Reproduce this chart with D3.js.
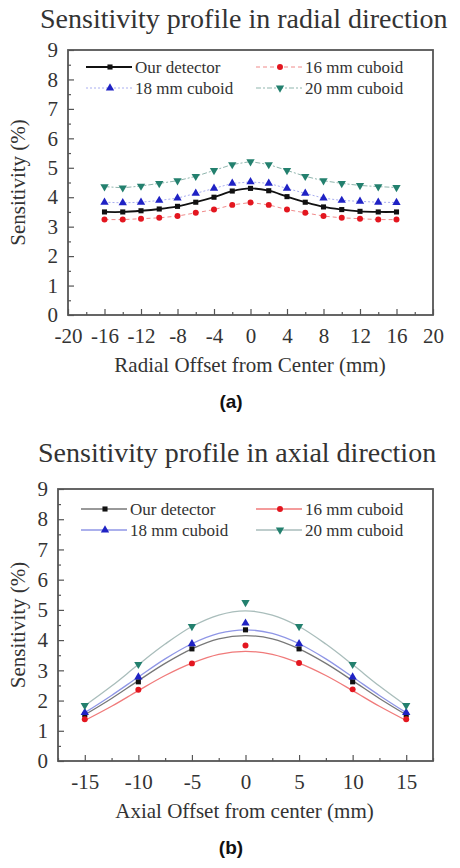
<!DOCTYPE html>
<html>
<head>
<meta charset="utf-8">
<script src="https://cdn.jsdelivr.net/npm/d3@7"></script>
<style>
  body { margin: 0; background: #fff; }
  svg { display: block; }
  text { font-family: "Liberation Serif", "Times New Roman", Times, serif; fill: #333; }
</style>
</head>
<body>
<div id="mainDiv"></div>
<script>
'use strict';

var seriesNames = ["Our detector", "16 mm cuboid", "18 mm cuboid", "20 mm cuboid"];
var yTicks = [0, 1, 2, 3, 4, 5, 6, 7, 8, 9];

// (a) radial profile
var radialX = [-16, -14, -12, -10, -8, -6, -4, -2, 0, 2, 4, 6, 8, 10, 12, 14, 16];
var radialOurs = [3.50, 3.50, 3.54, 3.60, 3.69, 3.83, 4.00, 4.21, 4.30, 4.22, 4.02, 3.83, 3.67, 3.58, 3.52, 3.50, 3.50];
var radial16 = [3.24, 3.24, 3.27, 3.30, 3.36, 3.47, 3.58, 3.74, 3.82, 3.74, 3.58, 3.47, 3.36, 3.30, 3.27, 3.24, 3.24];
var radial18 = [3.83, 3.81, 3.83, 3.89, 3.97, 4.13, 4.30, 4.47, 4.52, 4.47, 4.30, 4.13, 3.97, 3.89, 3.86, 3.83, 3.82];
var radial20 = [4.36, 4.32, 4.38, 4.47, 4.56, 4.71, 4.91, 5.11, 5.21, 5.11, 4.91, 4.71, 4.56, 4.47, 4.40, 4.36, 4.33];
var radialTicks = [-20, -16, -12, -8, -4, 0, 4, 8, 12, 16, 20];

// (b) axial profile, measured points
var axialX = [-15, -10, -5, 0, 5, 10, 15];
var axialOurs = [1.53, 2.62, 3.71, 4.34, 3.71, 2.62, 1.53];
var axial16 = [1.38, 2.36, 3.23, 3.82, 3.24, 2.37, 1.38];
var axial18 = [1.60, 2.78, 3.88, 4.56, 3.88, 2.78, 1.60];
var axial20 = [1.84, 3.20, 4.45, 5.25, 4.45, 3.20, 1.84];
// fitted curves, read at 2.5 mm steps
var fitX = [-15, -12.5, -10, -7.5, -5, -2.5, 0, 2.5, 5, 7.5, 10, 12.5, 15];
var fitOurs = [1.53, 2.07, 2.66, 3.23, 3.71, 4.04, 4.15, 4.04, 3.71, 3.23, 2.66, 2.07, 1.53];
var fit16 = [1.34, 1.81, 2.33, 2.83, 3.24, 3.53, 3.63, 3.53, 3.24, 2.83, 2.33, 1.81, 1.34];
var fit18 = [1.60, 2.17, 2.78, 3.38, 3.88, 4.22, 4.34, 4.22, 3.88, 3.38, 2.78, 2.17, 1.60];
var fit20 = [1.83, 2.48, 3.19, 3.87, 4.45, 4.83, 4.97, 4.83, 4.45, 3.87, 3.19, 2.48, 1.83];
var axialTicks = [-15, -10, -5, 0, 5, 10, 15];

var myApp = {};

myApp.colors = ["#111111", "#e3161f", "#1f22c4", "#23806e"];
myApp.lineColors = ["#777777", "#f07a7a", "#8f96e6", "#a9bdbb"];
myApp.shapes = [d3.symbolSquare, d3.symbolCircle, d3.symbolTriangle, d3.symbolTriangle];
myApp.sizes = [26, 28, 30, 30];

myApp.zip = function (xs, ys)
{
    return xs.map(function (x, i) { return [x, ys[i]]; });
}

myApp.marker = function (g, i, x, y)
{
    g.append("path")
        .attr("d", d3.symbol().type(myApp.shapes[i]).size(myApp.sizes[i])())
        .attr("transform", "translate(" + x + "," + y + ")" + (i === 3 ? " rotate(180)" : ""))
        .attr("fill", myApp.colors[i]);
}

myApp.drawPanel = function (svg, cfg)
{
    var x = d3.scaleLinear().domain(cfg.xDomain).range([cfg.left, cfg.right]);
    var y = d3.scaleLinear().domain([0, 9]).range([cfg.bottom, cfg.top]);
    var g = svg.append("g");

    g.append("text")
        .attr("x", cfg.titleX).attr("y", cfg.titleY)
        .attr("font-size", "28px")
        .text(cfg.title);

    // inward ticks: major and minor
    var plain = function (d) { return d; };
    var xAxis = g.append("g").attr("transform", "translate(0," + cfg.bottom + ")")
        .call(d3.axisBottom(x).tickValues(cfg.xMinor).tickSize(-3).tickFormat(""));
    var xMaj = g.append("g").attr("transform", "translate(0," + cfg.bottom + ")")
        .call(d3.axisBottom(x).tickValues(cfg.xTicks).tickSize(-6).tickPadding(13).tickFormat(plain));
    var yMin = g.append("g").attr("transform", "translate(" + cfg.left + ",0)")
        .call(d3.axisLeft(y).tickValues(d3.range(0.5, 9, 1)).tickSize(-3).tickFormat(""));
    var yMaj = g.append("g").attr("transform", "translate(" + cfg.left + ",0)")
        .call(d3.axisLeft(y).tickValues(yTicks).tickSize(-6).tickPadding(10).tickFormat(plain));
    [xAxis, xMaj, yMin, yMaj].forEach(function (a) {
        a.select(".domain").remove();
        a.selectAll("line").attr("stroke", "#555").attr("stroke-width", 1.2);
        a.selectAll("text").attr("font-size", "21px").attr("fill", "#333");
    });

    g.append("rect")
        .attr("x", cfg.left).attr("y", cfg.top)
        .attr("width", cfg.right - cfg.left).attr("height", cfg.bottom - cfg.top)
        .attr("fill", "none").attr("stroke", "#555").attr("stroke-width", 1.8);

    g.append("text")
        .attr("transform", "translate(" + 25 + "," + ((cfg.top + cfg.bottom) / 2) + ") rotate(-90)")
        .attr("text-anchor", "middle").attr("font-size", "21px")
        .text("Sensitivity (%)");

    g.append("text")
        .attr("x", (cfg.left + cfg.right) / 2 + cfg.xLabelShift).attr("y", cfg.bottom + 57)
        .attr("text-anchor", "middle").attr("font-size", "21px")
        .text(cfg.xLabel);

    g.append("text")
        .attr("x", 231).attr("y", cfg.bottom + 93)
        .attr("text-anchor", "middle").attr("font-size", "19px").attr("font-weight", "bold")
        .style("font-family", "Liberation Sans, Arial, sans-serif").style("fill", "#111")
        .text(cfg.tag);

    var line = d3.line()
        .x(function (d) { return x(d[0]); })
        .y(function (d) { return y(d[1]); });

    cfg.lines.forEach(function (ln) {
        g.append("path")
            .attr("d", line.curve(ln.curve)(ln.pts))
            .attr("fill", "none")
            .attr("stroke", ln.color)
            .attr("stroke-width", ln.width)
            .attr("stroke-dasharray", ln.dash);
    });

    cfg.points.forEach(function (pts, i) {
        pts.forEach(function (d) { myApp.marker(g, i, x(d[0]), y(d[1])); });
    });

    // legend
    var lx = [cfg.legX1, cfg.legX2];
    var ly = [cfg.legY, cfg.legY + 21];
    seriesNames.forEach(function (name, i) {
        var col = [0, 1, 0, 1][i], row = [0, 0, 1, 1][i];
        var cx = lx[col], cy = ly[row];
        g.append("line")
            .attr("x1", cx - 24).attr("x2", cx + 22)
            .attr("y1", cy).attr("y2", cy)
            .attr("stroke", cfg.lines[i].color)
            .attr("stroke-width", cfg.lines[i].width)
            .attr("stroke-dasharray", cfg.lines[i].dash);
        myApp.marker(g, i, cx, cy);
        g.append("text")
            .attr("x", cx + 25).attr("y", cy + 6)
            .attr("font-size", "17px")
            .text(name);
    });
}

myApp.run = function ()
{
    var svg = d3.select("#mainDiv").append("svg")
        .attr("width", 460).attr("height", 868);

    var radialSeries = [radialOurs, radial16, radial18, radial20];
    myApp.drawPanel(svg, {
        title: "Sensitivity profile in radial direction",
        titleX: 40, titleY: 28,
        left: 68, right: 433, top: 50, bottom: 315,
        xDomain: [-20, 20],
        xTicks: radialTicks,
        xMinor: d3.range(-18, 20, 4),
        xLabel: "Radial Offset from Center (mm)",
        xLabelShift: -0.5,
        tag: "(a)",
        legX1: 110, legX2: 280, legY: 67,
        lines: [
            { pts: myApp.zip(radialX, radialOurs), curve: d3.curveCatmullRom, color: "#111", width: 1.8, dash: null },
            { pts: myApp.zip(radialX, radial16), curve: d3.curveLinear, color: "#f08a8a", width: 1, dash: "4,3" },
            { pts: myApp.zip(radialX, radial18), curve: d3.curveLinear, color: "#a9aef0", width: 1, dash: "2,2" },
            { pts: myApp.zip(radialX, radial20), curve: d3.curveLinear, color: "#8fb5ad", width: 1, dash: "5,2,2,2" }
        ],
        points: radialSeries.map(function (s) { return myApp.zip(radialX, s); })
    });

    var axialSeries = [axialOurs, axial16, axial18, axial20];
    var fits = [fitOurs, fit16, fit18, fit20];
    myApp.drawPanel(svg, {
        title: "Sensitivity profile in axial direction",
        titleX: 38, titleY: 462,
        left: 58, right: 433, top: 489, bottom: 761,
        xDomain: [-17.5, 17.5],
        xTicks: axialTicks,
        xMinor: d3.range(-17.5, 17.6, 5),
        xLabel: "Axial Offset from center  (mm)",
        xLabelShift: -1,
        tag: "(b)",
        legX1: 105, legX2: 280, legY: 509,
        lines: fits.map(function (f, i) {
            return { pts: myApp.zip(fitX, f), curve: d3.curveCatmullRom, color: myApp.lineColors[i], width: 1.3, dash: null };
        }),
        points: axialSeries.map(function (s) { return myApp.zip(axialX, s); })
    });
}

window.onload = myApp.run;
</script>
</body>
</html>
